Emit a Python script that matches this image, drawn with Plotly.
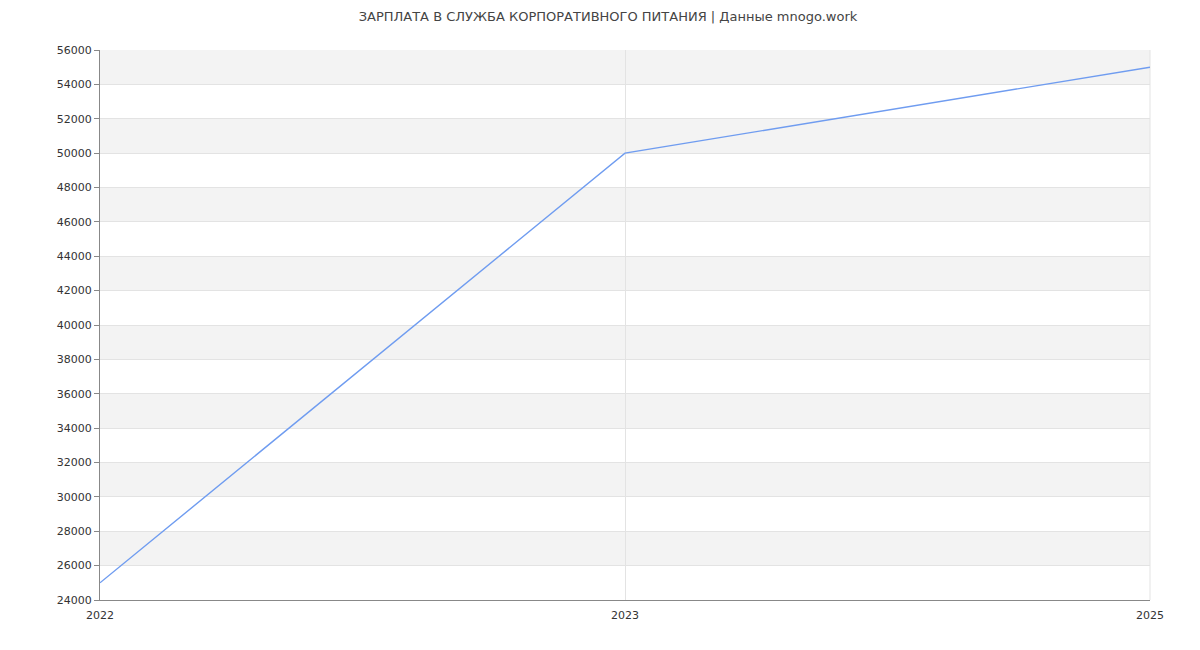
import plotly.graph_objects as go

years = ["2022", "2023", "2025"]
salaries = [25000, 50000, 55000]
y_ticks = list(range(24000, 56001, 2000))

fig = go.Figure()
fig.add_trace(go.Scatter(x=years, y=salaries, mode="lines",
                         line=dict(color="#6f9cf0", width=1.4),
                         hoverinfo="x+y", showlegend=False))

shapes = []
for lo in range(26000, 56000, 4000):
    shapes.append(dict(type="rect", xref="paper", yref="y", x0=0, x1=1,
                       y0=lo, y1=lo + 2000, fillcolor="#f3f3f3",
                       line=dict(width=0), layer="below"))
shapes.append(dict(type="line", xref="paper", yref="paper", x0=1, x1=1,
                   y0=0, y1=1, line=dict(color="#e3e3e3", width=1), layer="below"))

fig.update_layout(
    width=1200, height=650,
    margin=dict(l=92, r=58, t=42, b=58),
    paper_bgcolor="white", plot_bgcolor="white",
    font=dict(family="DejaVu Sans", size=11, color="#333"),
    title=dict(text="ЗАРПЛАТА В СЛУЖБА КОРПОРАТИВНОГО ПИТАНИЯ | Данные mnogo.work",
               x=0.5, xanchor="center", y=1 - 4 / 650, yanchor="top",
               pad=dict(t=0, b=0),
               font=dict(size=13, color="#444")),
    shapes=shapes,
    xaxis=dict(type="category", range=[0, 2], showgrid=True, gridcolor="#e3e3e3",
               gridwidth=1, showline=True, linecolor="#888", linewidth=1,
               ticks="outside", ticklen=5, tickcolor="rgba(0,0,0,0)",
               tickfont=dict(size=11, color="#333"), zeroline=False),
    yaxis=dict(range=[24000, 56000], tickvals=y_ticks, showgrid=True,
               gridcolor="#e3e3e3", gridwidth=1, showline=True, linecolor="#888",
               linewidth=1, ticks="outside", ticklen=5, tickcolor="#888",
               tickformat="d", tickfont=dict(size=11, color="#333"), zeroline=False),
)

fig.write_html("out.html")
